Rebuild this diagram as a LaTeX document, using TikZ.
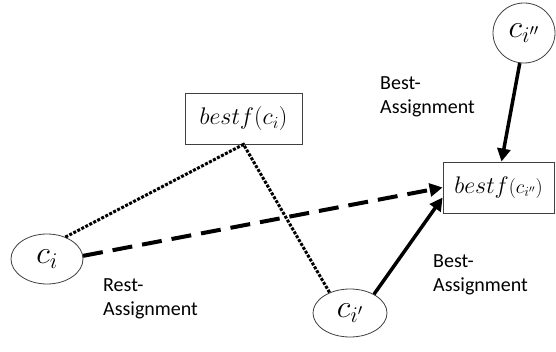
\RequirePackage{fix-cm}
\documentclass[tikz,border=0pt]{standalone}
\usepackage[no-math]{fontspec}
\setmainfont{Carlito}
\usetikzlibrary{arrows.meta,shapes.geometric}
\begin{document}
\begin{tikzpicture}[x=1pt,y=-1pt,
  ell/.style={ellipse, draw=black!75, line width=0.8pt, inner sep=0pt, font=\fontsize{32}{34}\selectfont},
  box/.style={rectangle, draw=black!75, line width=0.8pt, inner sep=0pt},
  dotline/.style={line width=3pt, dash pattern=on 3pt off 1.5pt},
  dasharrow/.style={line width=4pt, dash pattern=on 20pt off 10pt, -{Triangle[length=13pt,width=13pt]}},
  solidarrow/.style={line width=3.5pt, -{Triangle[length=13pt,width=13pt]}},
  lbl/.style={align=left, font=\fontsize{20}{24}\selectfont, inner sep=0pt, anchor=north west}]
\useasboundingbox (0,0) rectangle (556,352);
\fill[white] (0,0) rectangle (556,352);

\node[ell, minimum width=72pt, minimum height=50pt] (ci) at (47,259) {$c_i$};
\node[ell, minimum width=74pt, minimum height=48pt] (cp) at (350,313) {$c_{i'}$};
\node[ell, minimum width=62pt, minimum height=60pt] (cpp) at (524,33) {$c_{i''}$};
\node[box, minimum width=117pt, minimum height=51pt] (b1) at (243.5,118.5) {\fontsize{24}{28}\selectfont$bestf(c_i)$};
\node[box, minimum width=111pt, minimum height=51pt] (b2) at (498.5,187.5) {\fontsize{24}{28}\selectfont$bestf$\fontsize{20}{24}\selectfont$(c_{i''})$};

\node[lbl] (l1) at (103,278) {Rest-\\Assignment};
\node[lbl] (l2) at (380,76) {Best-\\Assignment};
\node[lbl] (l3) at (433,254) {Best-\\Assignment};

\draw[dotline] (ci.50) -- (b1.south) -- (cp.135);
\draw[dasharrow] (ci.5) -- (b2.west);
\draw[solidarrow] (cp.38) -- ([yshift=-10pt]b2.west);
\draw[solidarrow] (cpp.262) -- ([xshift=3pt]b2.north);
\end{tikzpicture}
\end{document}
